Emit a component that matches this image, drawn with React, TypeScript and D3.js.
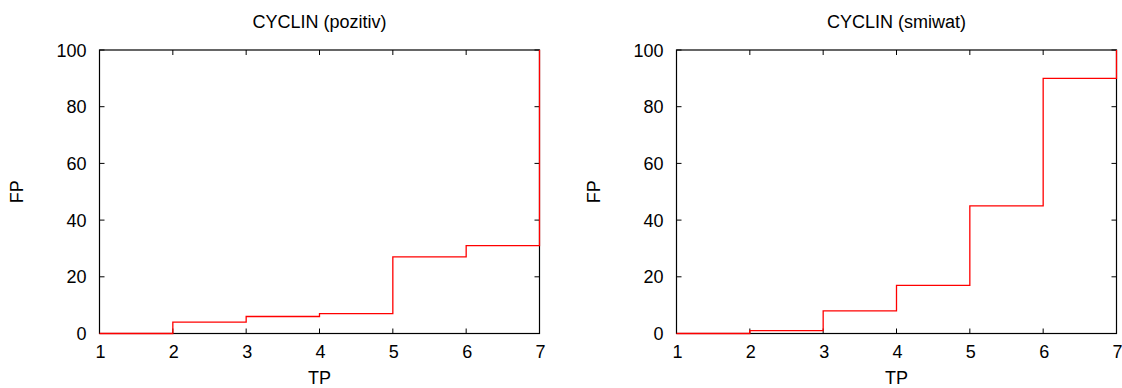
import React from "react";
import * as d3 from "d3";

const tpValues = [1, 2, 3, 4, 5, 6, 7];
const fpPozitiv = [0, 4, 6, 7, 27, 31, 100];
const fpSmiwat = [0, 1, 8, 17, 45, 90, 100];
const xTicks = [1, 2, 3, 4, 5, 6, 7];
const yTicks = [0, 20, 40, 60, 80, 100];
const titles = ["CYCLIN (pozitiv)", "CYCLIN (smiwat)"];

const W = 1122;
const H = 388;
const FONT = "'Liberation Sans', Arial, Helvetica, sans-serif";
const FS = 18;

function Panel({ left, title, values }: { left: number; title: string; values: number[] }) {
  const x = d3.scaleLinear().domain([1, 7]).range([left, left + 440]);
  const y = d3.scaleLinear().domain([0, 100]).range([333.5, 50]);
  const pts: [number, number][] = tpValues.map((t, i) => [t, values[i]]);
  const line = d3
    .line<[number, number]>()
    .x((d) => x(d[0]))
    .y((d) => y(d[1]))
    .curve(d3.curveStepAfter);
  const [x0, x1] = x.range();
  const [yb, yt] = y.range();
  const tl = 5;
  return (
    <g>
      <text x={(x0 + x1) / 2} y={28} textAnchor="middle" fontSize={FS} fontFamily={FONT} fill="#000">
        {title}
      </text>
      {yTicks.map((t) => (
        <g key={"y" + t}>
          <line x1={x0} x2={x0 + tl} y1={y(t)} y2={y(t)} stroke="#000" strokeWidth={1} />
          <line x1={x1} x2={x1 - tl} y1={y(t)} y2={y(t)} stroke="#000" strokeWidth={1} />
          <text x={x0 - 13} y={y(t) + 6.5} textAnchor="end" fontSize={FS} fontFamily={FONT} fill="#000">
            {t}
          </text>
        </g>
      ))}
      {xTicks.map((t) => (
        <g key={"x" + t}>
          <line x1={x(t)} x2={x(t)} y1={yb} y2={yb - tl} stroke="#000" strokeWidth={1} />
          <line x1={x(t)} x2={x(t)} y1={yt} y2={yt + tl} stroke="#000" strokeWidth={1} />
          <text x={x(t) + 1} y={358.3} textAnchor="middle" fontSize={FS} fontFamily={FONT} fill="#000">
            {t}
          </text>
        </g>
      ))}
      <rect x={x0} y={yt} width={x1 - x0} height={yb - yt} fill="none" stroke="#000" strokeWidth={1.2} />
      <path d={line(pts) || ""} fill="none" stroke="#ff0000" strokeWidth={1.3} />
      <text x={(x0 + x1) / 2} y={384} textAnchor="middle" fontSize={FS} fontFamily={FONT} fill="#000">
        TP
      </text>
      <text
        transform={`translate(${x0 - 76.5},${(yb + yt) / 2}) rotate(-90)`}
        textAnchor="middle"
        fontSize={FS}
        fontFamily={FONT}
        fill="#000"
      >
        FP
      </text>
    </g>
  );
}

export default function App() {
  return (
    <svg
      width={W}
      height={H}
      viewBox={`0 0 ${W} ${H}`}
      style={{ position: "absolute", left: 0, top: 0, background: "#fff" }}
    >
      <rect x={0} y={0} width={W} height={H} fill="#fff" />
      <Panel left={99.5} title={titles[0]} values={fpPozitiv} />
      <Panel left={676.5} title={titles[1]} values={fpSmiwat} />
    </svg>
  );
}
